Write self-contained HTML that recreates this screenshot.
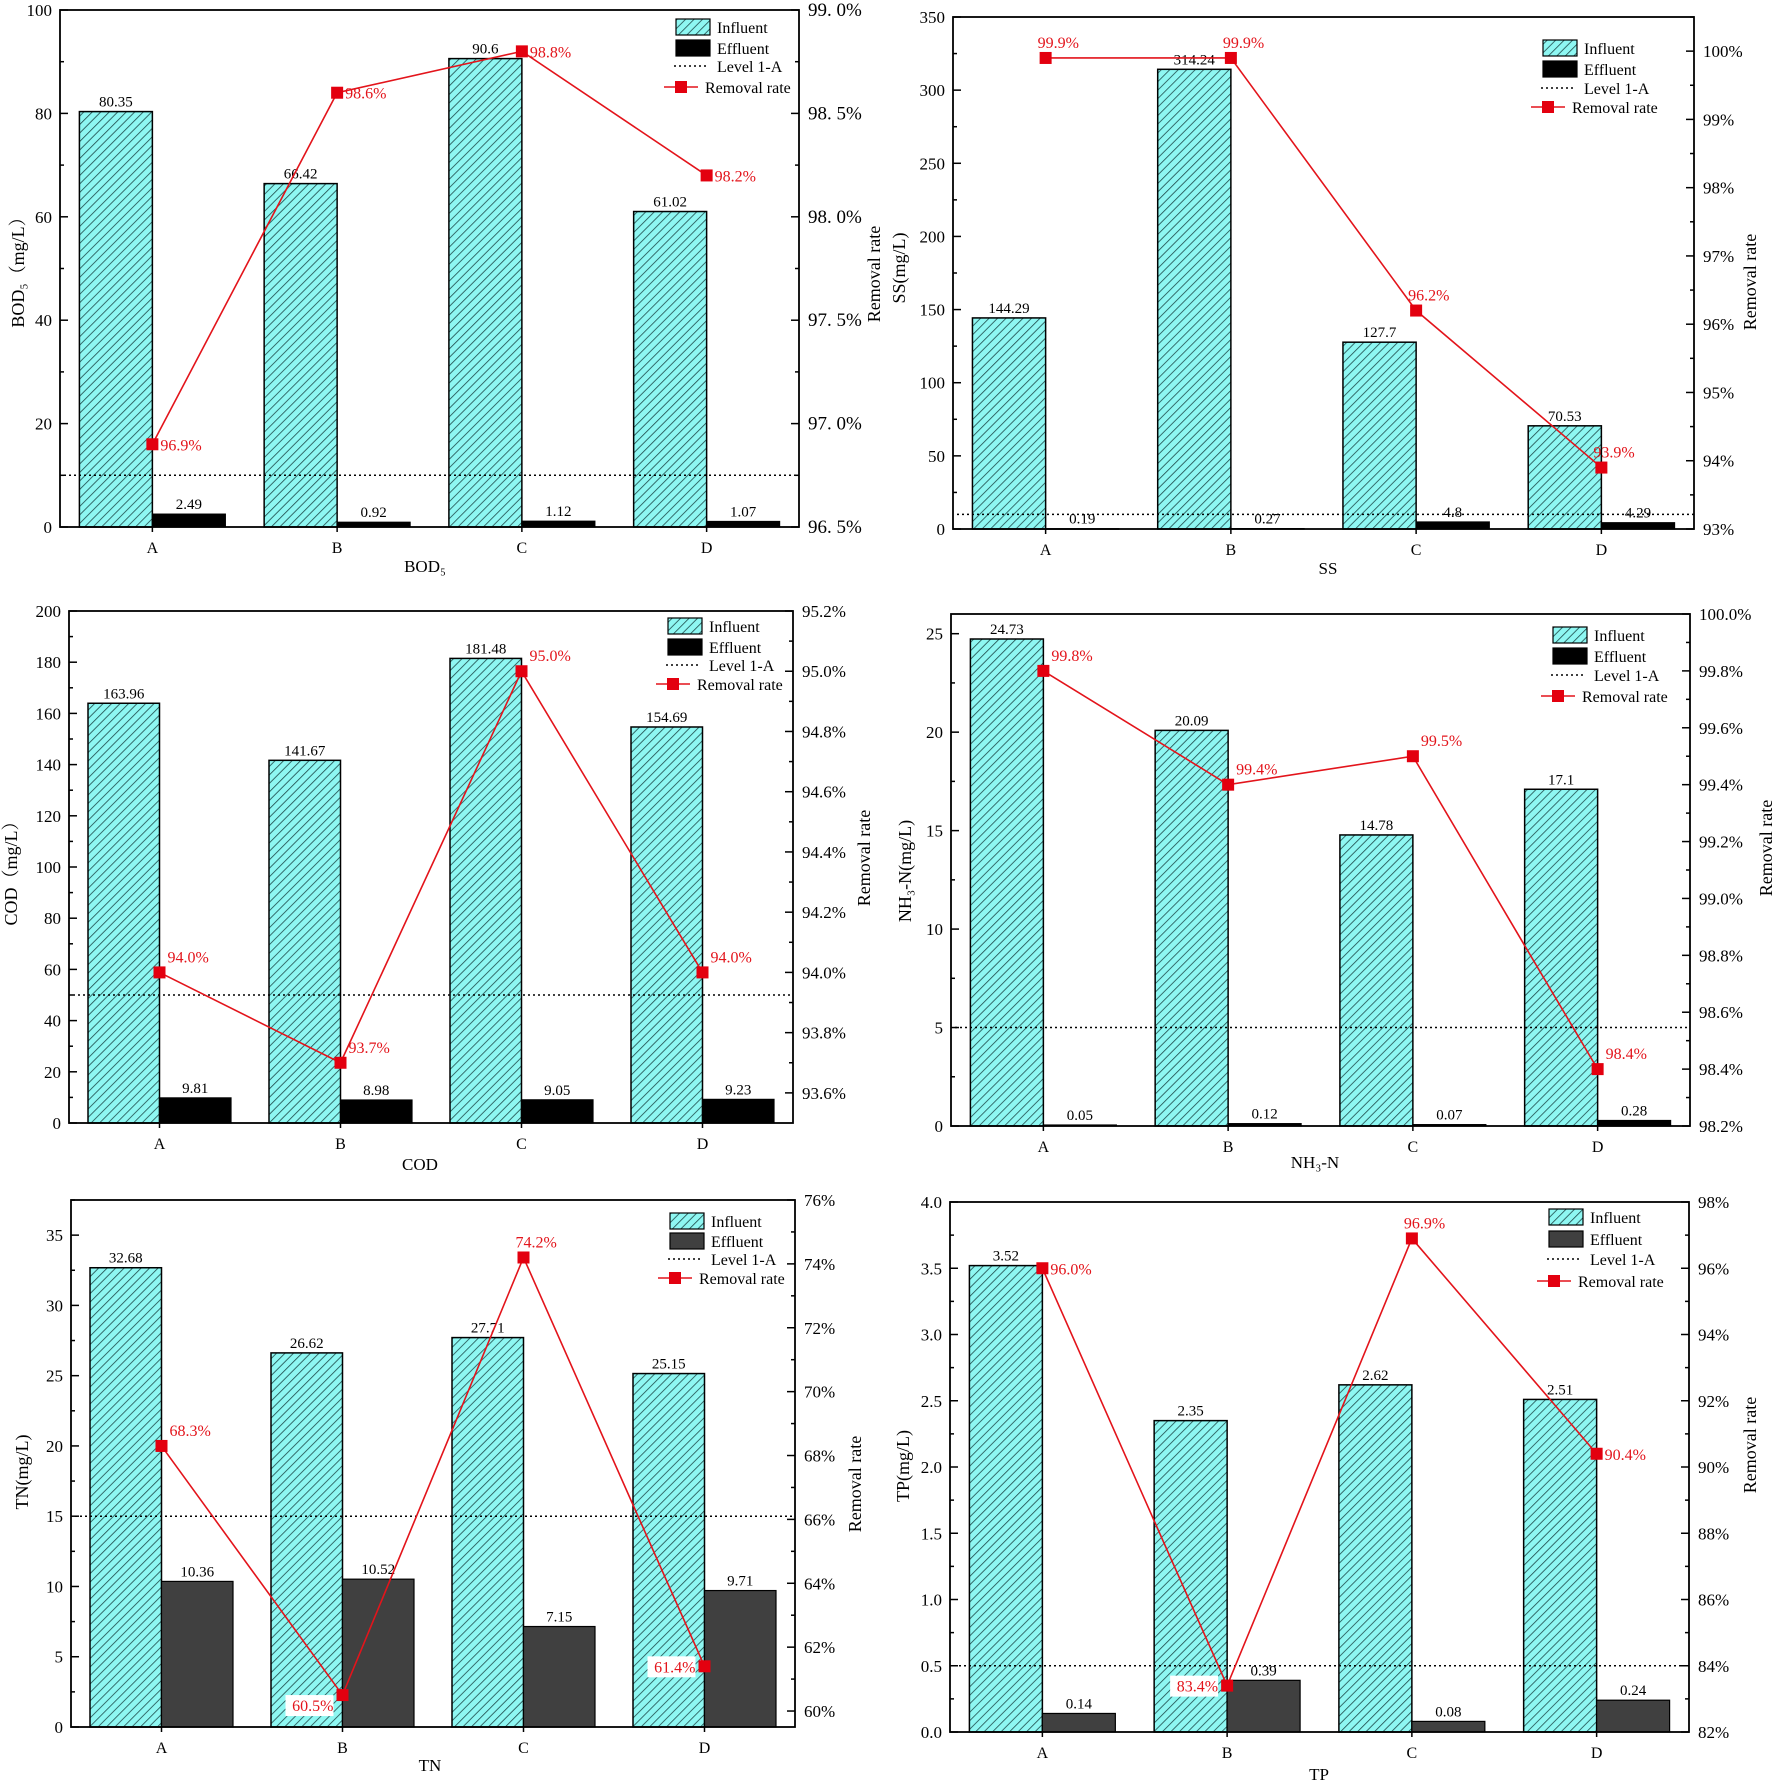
<!DOCTYPE html>
<html><head><meta charset="utf-8">
<style>
html,body{margin:0;padding:0;background:#fff;}
svg{display:block;font-family:"Liberation Serif","Noto Serif CJK SC",serif;}
</style></head>
<body>
<svg id="chart" width="1772" height="1787" viewBox="0 0 1772 1787" xmlns="http://www.w3.org/2000/svg">
<defs>
<pattern id="hatch" patternUnits="userSpaceOnUse" width="6" height="6" patternTransform="rotate(45)">
<rect width="6" height="6" fill="#8ef7f2"/>
<line x1="0" y1="0" x2="0" y2="6" stroke="#1e4a4a" stroke-width="1.6"/>
</pattern>
</defs>
</svg>
<script>
const categories = ["A","B","C","D"];
const bodInfluent = [80.35, 66.42, 90.6, 61.02];
const bodEffluent = [2.49, 0.92, 1.12, 1.07];
const bodRemoval = [96.9, 98.6, 98.8, 98.2];
const ssInfluent = [144.29, 314.24, 127.7, 70.53];
const ssEffluent = [0.19, 0.27, 4.8, 4.29];
const ssRemoval = [99.9, 99.9, 96.2, 93.9];
const codInfluent = [163.96, 141.67, 181.48, 154.69];
const codEffluent = [9.81, 8.98, 9.05, 9.23];
const codRemoval = [94.0, 93.7, 95.0, 94.0];
const nh3Influent = [24.73, 20.09, 14.78, 17.1];
const nh3Effluent = [0.05, 0.12, 0.07, 0.28];
const nh3Removal = [99.8, 99.4, 99.5, 98.4];
const tnInfluent = [32.68, 26.62, 27.71, 25.15];
const tnEffluent = [10.36, 10.52, 7.15, 9.71];
const tnRemoval = [68.3, 60.5, 74.2, 61.4];
const tpInfluent = [3.52, 2.35, 2.62, 2.51];
const tpEffluent = [0.14, 0.39, 0.08, 0.24];
const tpRemoval = [96.0, 83.4, 96.9, 90.4];
const levelLimits = [10, 10, 50, 5, 15, 0.5];

const svg = document.getElementById('chart');
const NS = 'http://www.w3.org/2000/svg';
function mk(tag, attrs, parent, text){
  const e = document.createElementNS(NS, tag);
  for (const k in attrs) e.setAttribute(k, attrs[k]);
  if (text !== undefined) e.textContent = text;
  (parent || svg).appendChild(e);
  return e;
}

const panels = [
 {id:'bod', L:60,R:799,T:10,B:527, lmin:0,lmax:100,lstep:20,lminor:10,ldec:0,
  rmin:96.5,rmax:99.0,rstart:96.5,rstep:0.5,rminor:0.25,rfmt:v=>v.toFixed(1).replace('.','. ')+'%', rfont:19,
  inf:bodInfluent,eff:bodEffluent,rem:bodRemoval,level:levelLimits[0],effColor:'#000',
  ytitle:'BOD₅（mg/L）',ytx:20,yty:268, rtx:876,rty:274, xtitle:'BOD₅',xtx:425,xty:572,
  lgx:676, lgy:[27,48,66,87], lab:['r','r','r','r']},
 {id:'ss', L:953,R:1694,T:17,B:529, lmin:0,lmax:350,lstep:50,lminor:25,ldec:0,
  rmin:93,rmax:100.5,rstart:93,rstep:1,rminor:0.5,rfmt:v=>v.toFixed(0)+'%', rfont:17,
  inf:ssInfluent,eff:ssEffluent,rem:ssRemoval,level:levelLimits[1],effColor:'#000',
  ytitle:'SS(mg/L)',ytx:901,yty:268, rtx:1752,rty:282, xtitle:'SS',xtx:1328,xty:574,
  lgx:1543, lgy:[48,69,88,107], lab:['t','t','t','t']},
 {id:'cod', L:69,R:793,T:611,B:1123, lmin:0,lmax:200,lstep:20,lminor:10,ldec:0,
  rmin:93.5,rmax:95.2,rstart:93.6,rstep:0.2,rminor:0.1,rfmt:v=>v.toFixed(1)+'%', rfont:17,
  inf:codInfluent,eff:codEffluent,rem:codRemoval,level:levelLimits[2],effColor:'#000',
  ytitle:'COD（mg/L）',ytx:13,yty:869, rtx:866,rty:858, xtitle:'COD',xtx:420,xty:1170,
  lgx:668, lgy:[626,647,665,684], lab:['tr','tr','tr','tr']},
 {id:'nh3', L:951,R:1690,T:614,B:1126, lmin:0,lmax:26,lstep:5,lminor:2.5,ldec:0,
  rmin:98.2,rmax:100,rstart:98.2,rstep:0.2,rminor:0.1,rfmt:v=>v.toFixed(1)+'%', rfont:17,
  inf:nh3Influent,eff:nh3Effluent,rem:nh3Removal,level:levelLimits[3],effColor:'#000',
  ytitle:'NH₃-N(mg/L)',ytx:907,yty:871, rtx:1768,rty:848, xtitle:'NH₃-N',xtx:1315,xty:1168,
  lgx:1553, lgy:[635,656,675,696], lab:['tr','tr','tr','tr']},
 {id:'tn', L:71,R:795,T:1200,B:1727, lmin:0,lmax:37.5,lstep:5,lminor:2.5,ldec:0,
  rmin:59.5,rmax:76,rstart:60,rstep:2,rminor:1,rfmt:v=>v.toFixed(0)+'%', rfont:17,
  inf:tnInfluent,eff:tnEffluent,rem:tnRemoval,level:levelLimits[4],effColor:'#404040',
  ytitle:'TN(mg/L)',ytx:24,yty:1472, rtx:857,rty:1484, xtitle:'TN',xtx:430,xty:1771,
  lgx:670, lgy:[1221,1241,1259,1278], lab:['tr','bl','t','l']},
 {id:'tp', L:950,R:1689,T:1202,B:1732, lmin:0,lmax:4,lstep:0.5,lminor:0.25,ldec:1,
  rmin:82,rmax:98,rstart:82,rstep:2,rminor:1,rfmt:v=>v.toFixed(0)+'%', rfont:17,
  inf:tpInfluent,eff:tpEffluent,rem:tpRemoval,level:levelLimits[5],effColor:'#404040',
  ytitle:'TP(mg/L)',ytx:905,yty:1466, rtx:1752,rty:1445, xtitle:'TP',xtx:1319,xty:1780,
  lgx:1549, lgy:[1217,1239,1259,1281], lab:['r','l','t','r']}
];

panels.forEach(p => {
  const g = mk('g', {});
  
  
  const yL = v => p.B - (v - p.lmin) / (p.lmax - p.lmin) * (p.B - p.T);
  const yR = v => p.B - (v - p.rmin) / (p.rmax - p.rmin) * (p.B - p.T);
  const step = (p.R - p.L) / categories.length;
  const xC = i => p.L + (i + 0.5) * step;
  const bw = step * 0.395;

  // bars
  categories.forEach((c, i) => {
    const yi = yL(p.inf[i]);
    const bi = mk('rect', {x:xC(i)-bw, y:yi, width:bw, height:p.B-yi, fill:'url(#hatch)', stroke:'#000', 'stroke-width':1.5}, g);
    
    
    const li = mk('text', {x:xC(i)-bw/2, y:yi-5, 'text-anchor':'middle', 'font-size':15, fill:'#000'}, g, String(p.inf[i]));
    
    
    const ye = yL(p.eff[i]);
    const be = mk('rect', {x:xC(i), y:ye, width:bw, height:Math.max(p.B-ye,0.5), fill:p.effColor, stroke:'#000', 'stroke-width':1.2}, g);
    
    
    const le = mk('text', {x:xC(i)+bw/2, y:ye-5, 'text-anchor':'middle', 'font-size':15, fill:'#000'}, g, String(p.eff[i]));
    
    
  });

  // level line
  const ll = mk('line', {x1:p.L+4, x2:p.R, y1:yL(p.level), y2:yL(p.level), stroke:'#000', 'stroke-width':1.5, 'stroke-dasharray':'2,3'}, g);
  
  

  // frame
  const fr = mk('rect', {x:p.L, y:p.T, width:p.R-p.L, height:p.B-p.T, fill:'none', stroke:'#000', 'stroke-width':1.8}, g);
  
  

  // left ticks
  for (let v = p.lmin; v <= p.lmax + 1e-9; v += p.lminor) {
    const isMaj = Math.abs(v / p.lstep - Math.round(v / p.lstep)) < 1e-6;
    const y = yL(v);
    mk('line', {x1:p.L, x2:p.L + (isMaj ? 8 : 4), y1:y, y2:y, stroke:'#000', 'stroke-width':1.5}, g);
    if (isMaj) {
      const t = mk('text', {x:p.L-8, y:y+6, 'text-anchor':'end', 'font-size':17}, g, v.toFixed(p.ldec));
      
      
    }
  }
  // right ticks
  for (let v = p.rstart; v <= p.rmax + 1e-9; v += p.rminor) {
    const isMaj = Math.abs((v - p.rstart) / p.rstep - Math.round((v - p.rstart) / p.rstep)) < 1e-6;
    const y = yR(v);
    mk('line', {x1:p.R, x2:p.R - (isMaj ? 8 : 4), y1:y, y2:y, stroke:'#000', 'stroke-width':1.5}, g);
    if (isMaj) {
      const t = mk('text', {x:p.R+9, y:y+6, 'text-anchor':'start', 'font-size':p.rfont}, g, p.rfmt(v));
      
      
    }
  }
  // x ticks & labels
  categories.forEach((c, i) => {
    mk('line', {x1:xC(i), x2:xC(i), y1:p.B, y2:p.B+5, stroke:'#000', 'stroke-width':1.5}, g);
    const t = mk('text', {x:xC(i), y:p.B+26, 'text-anchor':'middle', 'font-size':16}, g, c);
    
    
  });

  // removal line
  const pts = p.rem.map((v, i) => xC(i) + ',' + yR(v)).join(' ');
  const pl = mk('polyline', {points:pts, fill:'none', stroke:'#e3141b', 'stroke-width':1.6}, g);
  
  
  p.rem.forEach((v, i) => {
    const x = xC(i), y = yR(v);
    const m = mk('rect', {x:x-6, y:y-6, width:12, height:12, fill:'#e3000f'}, g);
    
    
    const k = p.lab[i];
    let tx = x + 8, ty = y + 6, anc = 'start';
    if (k === 't') { tx = x - 8; ty = y - 10; }
    if (k === 'tr') { tx = x + 8; ty = y - 10; }
    if (k === 'l') { tx = x - 9; ty = y + 6; anc = 'end'; }
    if (k === 'bl') { tx = x - 9; ty = y + 16; anc = 'end'; }
    const txt = v.toFixed(1) + '%';
    if (k === 'l' || k === 'bl') {
      mk('rect', {x:tx - 48, y:ty - 16, width:48, height:21, fill:'#fff'}, g);
    }
    const lt = mk('text', {x:tx, y:ty, 'text-anchor':anc, 'font-size':16, fill:'#e3141b'}, g, txt);
    
    
  });

  // titles
  const yt = mk('text', {x:p.ytx, y:p.yty, 'text-anchor':'middle', 'font-size':18, transform:`rotate(-90 ${p.ytx} ${p.yty})`, 'dominant-baseline':'middle'}, g, p.ytitle);
  
  
  const rt = mk('text', {x:p.rtx, y:p.rty, 'text-anchor':'middle', 'font-size':18, transform:`rotate(-90 ${p.rtx} ${p.rty})`, 'dominant-baseline':'middle'}, g, 'Removal rate');
  
  
  const xt = mk('text', {x:p.xtx, y:p.xty, 'text-anchor':'middle', 'font-size':17}, g, p.xtitle);
  
  

  // legend
  const lg = mk('g', {}, g);
  
  
  const sx = p.lgx, tx = sx + 41;
  mk('rect', {x:sx, y:p.lgy[0]-8, width:34, height:16, fill:'url(#hatch)', stroke:'#000', 'stroke-width':1.2}, lg);
  const e1 = mk('text', {x:tx, y:p.lgy[0]+6, 'font-size':16}, lg, 'Influent');
  
  
  mk('rect', {x:sx, y:p.lgy[1]-8, width:34, height:16, fill:p.effColor, stroke:'#000', 'stroke-width':1.2}, lg);
  const e2 = mk('text', {x:tx, y:p.lgy[1]+6, 'font-size':16}, lg, 'Effluent');
  
  
  mk('line', {x1:sx-2, x2:sx+32, y1:p.lgy[2], y2:p.lgy[2], stroke:'#000', 'stroke-width':1.5, 'stroke-dasharray':'2,3'}, lg);
  const e3 = mk('text', {x:tx, y:p.lgy[2]+6, 'font-size':16}, lg, 'Level 1-A');
  
  
  mk('line', {x1:sx-12, x2:sx+22, y1:p.lgy[3], y2:p.lgy[3], stroke:'#e3141b', 'stroke-width':1.6}, lg);
  mk('rect', {x:sx-1, y:p.lgy[3]-6, width:12, height:12, fill:'#e3000f'}, lg);
  const e4 = mk('text', {x:sx+29, y:p.lgy[3]+6, 'font-size':16}, lg, 'Removal rate');
  
  
});
</script>
</body></html>
